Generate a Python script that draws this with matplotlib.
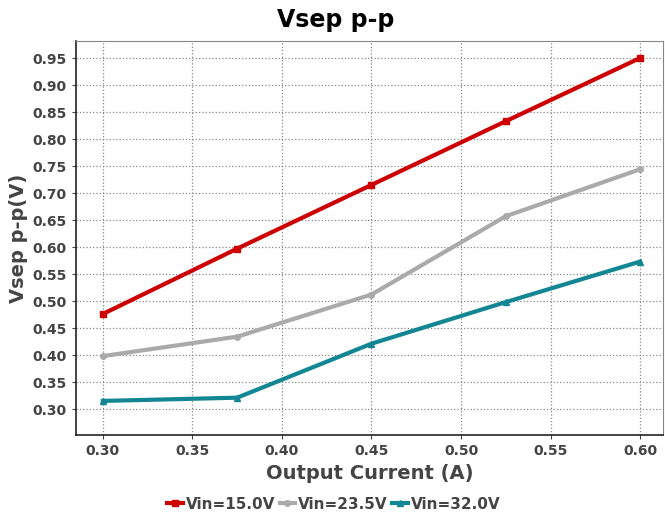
import matplotlib
matplotlib.use("Agg")
import matplotlib.pyplot as plt

current = [0.30, 0.375, 0.45, 0.525, 0.60]
vin_15 = [0.476, 0.597, 0.715, 0.833, 0.950]
vin_23_5 = [0.398, 0.434, 0.512, 0.657, 0.744]
vin_32 = [0.315, 0.321, 0.421, 0.498, 0.573]
series_labels = ["Vin=15.0V", "Vin=23.5V", "Vin=32.0V"]
x_ticks = [0.30, 0.35, 0.40, 0.45, 0.50, 0.55, 0.60]
y_ticks = [0.30, 0.35, 0.40, 0.45, 0.50, 0.55, 0.60, 0.65, 0.70, 0.75, 0.80, 0.85, 0.90, 0.95]

text_color = "#444444"

fig = plt.figure(figsize=(6.65, 5.13), dpi=100)
ax = fig.add_axes([76 / 665, 1 - 435 / 513, 587 / 665, 394 / 513])

ax.plot(current, vin_15, color="#cc0000", lw=3, marker="s", ms=5, label=series_labels[0])
ax.plot(current, vin_23_5, color="#aaaaaa", lw=3, marker="o", ms=4, label=series_labels[1])
ax.plot(current, vin_32, color="#128793", lw=3, marker="^", ms=4, label=series_labels[2])

ax.set_xlim(0.285, 0.6128)
ax.set_ylim(0.2519, 0.9815)
ax.set_xticks(x_ticks)
ax.set_xticklabels([f"{v:.2f}" for v in x_ticks])
ax.set_yticks(y_ticks)
ax.set_yticklabels([f"{v:.2f}" for v in y_ticks])
ax.tick_params(labelsize=10, colors=text_color, length=3)
for lab in ax.get_xticklabels() + ax.get_yticklabels():
    lab.set_fontweight("bold")

ax.grid(True, linestyle=":", color="#888888", lw=0.9)
ax.set_axisbelow(True)
for side in ["left", "bottom"]:
    ax.spines[side].set_color("#222222")
    ax.spines[side].set_linewidth(1.2)
for side in ["top", "right"]:
    ax.spines[side].set_color("#888888")

# title and legend are centred on the whole figure, not on the axes
fig.suptitle("Vsep p-p", x=0.505, y=0.985, fontsize=17, fontweight="bold")
ax.set_xlabel("Output Current (A)", fontsize=14, fontweight="bold", color=text_color, labelpad=4)
ax.set_ylabel("Vsep p-p(V)", fontsize=14, fontweight="bold", color=text_color, labelpad=3)

handles, labels = ax.get_legend_handles_labels()
fig.legend(handles, labels, loc="lower center", bbox_to_anchor=(0.502, -0.024), ncol=3, frameon=False,
           handlelength=1.0, handletextpad=0.2, columnspacing=0.3,
           prop={"size": 11, "weight": "bold"}, labelcolor=text_color)

fig.savefig("out.png", dpi=100)
